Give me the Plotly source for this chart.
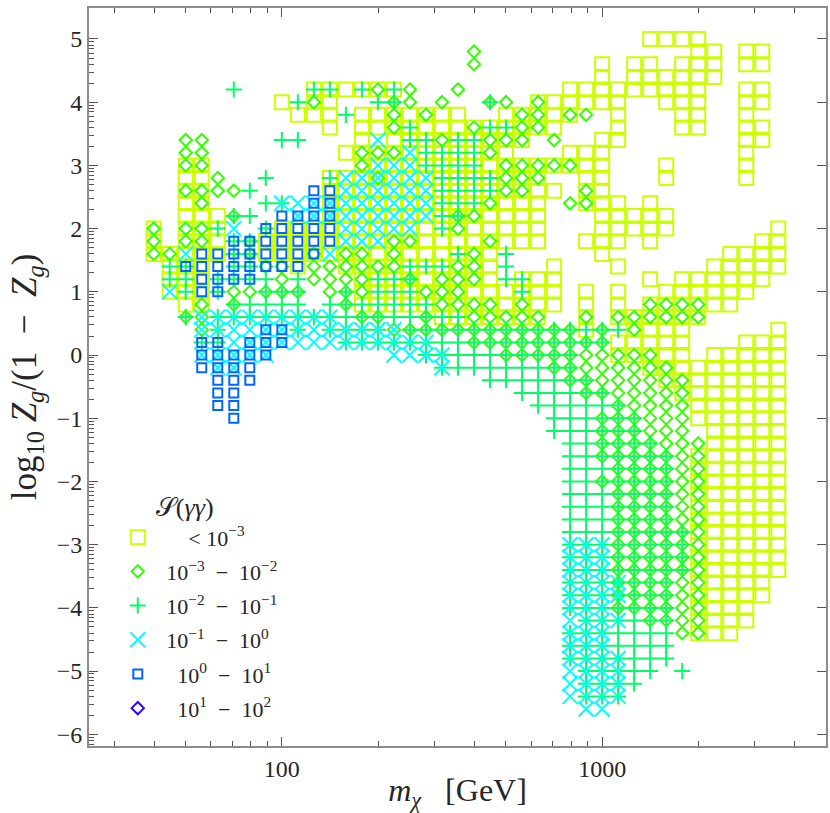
import math
import plotly.graph_objects as go

# points per row: {log10 Zg/(1-Zg): [100*log10 m_chi, ...]}
squares = {
    5.0: [315, 320, 325, 330],
    4.8: [330, 335, 345, 350],
    4.6: [300, 310, 315, 325, 330, 335, 345, 350],
    4.4: [300, 310, 315, 320, 325, 330, 335],
    4.2: [210, 215, 220, 225, 230, 235, 290, 295, 300, 305, 310, 315, 320, 325, 330, 345, 350],
    4.0: [200, 210, 215, 280, 285, 290, 295, 300, 305, 320, 325, 330, 345, 350],
    3.8: [205, 210, 215, 225, 230, 235, 240, 245, 250, 255, 270, 275, 280, 285, 290, 305, 325, 330, 345],
    3.6: [215, 225, 230, 235, 240, 245, 250, 255, 260, 265, 270, 275, 280, 285, 305, 325, 330, 345, 350],
    3.4: [225, 235, 240, 245, 250, 255, 260, 265, 270, 275, 300, 305, 345, 350],
    3.2: [220, 225, 230, 235, 240, 245, 250, 255, 260, 265, 270, 290, 295, 300, 345],
    3.0: [170, 175, 225, 230, 235, 240, 245, 250, 255, 260, 265, 270, 275, 280, 285, 290, 295, 300, 320, 345],
    2.8: [170, 175, 215, 220, 225, 230, 235, 240, 245, 250, 255, 260, 265, 270, 275, 280, 295, 300, 320, 345],
    2.6: [170, 175, 215, 220, 225, 230, 235, 240, 245, 250, 255, 260, 265, 270, 275, 280, 285, 295, 300],
    2.4: [170, 175, 215, 220, 225, 230, 235, 240, 245, 250, 255, 260, 265, 270, 275, 280, 295, 300, 305, 315],
    2.2: [170, 175, 180, 215, 220, 225, 230, 235, 240, 245, 250, 255, 260, 265, 270, 275, 280, 300, 305, 310, 315, 320],
    2.0: [160, 170, 175, 180, 200, 205, 210, 215, 220, 225, 230, 235, 240, 245, 250, 255, 260, 265, 270, 275, 280, 300, 305, 310, 315, 320, 355],
    1.8: [160, 170, 175, 180, 195, 200, 205, 210, 215, 220, 225, 230, 235, 240, 245, 250, 255, 260, 265, 270, 275, 280, 295, 300, 305, 315, 350, 355],
    1.6: [160, 165, 170, 175, 180, 195, 200, 205, 210, 215, 220, 225, 230, 235, 240, 245, 250, 255, 260, 265, 300, 340, 345, 350, 355],
    1.4: [165, 170, 175, 205, 220, 225, 230, 235, 240, 245, 250, 255, 260, 265, 285, 305, 335, 340, 345, 350, 355],
    1.2: [165, 170, 175, 225, 230, 235, 240, 245, 250, 255, 260, 265, 275, 280, 285, 315, 325, 330, 335, 340, 345, 350],
    1.0: [165, 170, 175, 225, 230, 235, 240, 245, 250, 255, 260, 265, 270, 275, 280, 285, 295, 305, 320, 325, 330, 335, 340, 345],
    0.8: [170, 175, 225, 230, 235, 240, 245, 250, 255, 260, 265, 270, 275, 280, 285, 295, 305, 315, 320, 325, 330, 335, 340],
    0.6: [250, 255, 260, 265, 270, 275, 280, 295, 305, 310, 315, 320, 325, 330],
    0.4: [295, 310, 315, 320, 325, 355],
    0.2: [305, 310, 315, 320, 325, 345, 350, 355],
    0.0: [305, 310, 315, 320, 325, 335, 340, 345, 350, 355],
    -0.2: [315, 320, 325, 330, 335, 340, 345, 350, 355],
    -0.4: [320, 325, 330, 335, 340, 345, 350, 355],
    -0.6: [325, 330, 335, 340, 345, 350, 355],
    -0.8: [330, 335, 340, 345, 350, 355],
    -1.0: [330, 335, 340, 345, 350, 355],
    -1.2: [335, 340, 345, 350, 355],
    -1.4: [335, 340, 345, 350, 355],
    -1.6: [330, 335, 340, 345, 350, 355],
    -1.8: [330, 335, 340, 345, 350, 355],
    -2.0: [330, 335, 340, 345, 350, 355],
    -2.2: [330, 335, 340, 345, 350, 355],
    -2.4: [330, 335, 340, 345, 350, 355],
    -2.6: [330, 335, 340, 345, 350, 355],
    -2.8: [330, 335, 340, 345, 350, 355],
    -3.0: [330, 335, 340, 345, 350, 355],
    -3.2: [330, 335, 340, 345, 350, 355],
    -3.4: [330, 335, 340, 345, 350, 355],
    -3.6: [330, 335, 340, 345, 350],
    -3.8: [330, 335, 340, 345, 350],
    -4.0: [330, 335, 340, 345],
    -4.2: [330, 335, 340, 345],
    -4.4: [330, 335, 340],
}

diamonds = {
    4.8: [260],
    4.6: [260],
    4.2: [230, 240, 255],
    4.0: [210, 235, 240, 250, 265, 270, 280],
    3.8: [235, 245, 275, 280, 290, 295],
    3.6: [235, 260, 275, 280],
    3.4: [170, 175, 250, 265, 270, 275, 285],
    3.2: [170, 175, 225, 230, 235, 265],
    3.0: [170, 175, 225, 270, 275, 280, 285, 290],
    2.8: [180, 230, 270, 275, 280],
    2.6: [170, 175, 180, 185, 270, 275, 295],
    2.4: [175, 265, 290, 295],
    2.2: [185, 255, 260],
    2.0: [160, 170, 175, 255],
    1.8: [160, 170, 175, 190, 235, 240, 265],
    1.6: [160, 165, 190, 210, 220, 225, 235, 260],
    1.4: [195, 200, 210, 215, 220, 225, 230, 235, 255, 260],
    1.2: [200, 210, 215, 220, 225, 240, 250, 255, 260],
    1.0: [185, 190, 195, 200, 205, 215, 220, 225, 245, 250, 255],
    0.8: [175, 185, 220, 250, 255, 260, 265, 275, 315, 320, 325, 330],
    0.6: [170, 175, 225, 230, 245, 260, 265, 270, 275, 280, 295, 305, 310, 315, 320, 325, 330],
    0.4: [175, 235, 240, 245, 250, 255, 260, 265, 270, 275, 280, 285, 290, 300, 310],
    0.2: [260, 265, 270, 275, 280, 285, 290, 295, 300],
    0.0: [270, 275, 280, 285, 290, 295, 300, 305, 310, 315],
    -0.2: [285, 290, 295, 300, 305, 310, 315, 320],
    -0.4: [290, 295, 300, 305, 310, 315, 320, 325],
    -0.6: [295, 300, 305, 310, 315, 320, 325],
    -0.8: [305, 310, 315, 320, 325],
    -1.0: [300, 305, 310, 315, 320, 325],
    -1.2: [300, 305, 310, 315, 320, 325],
    -1.4: [300, 305, 310, 315, 320, 325, 330],
    -1.6: [300, 305, 310, 315, 320, 325, 330],
    -1.8: [305, 310, 315, 320, 325, 330],
    -2.0: [300, 305, 310, 315, 320, 325, 330],
    -2.2: [305, 310, 315, 320, 325, 330],
    -2.4: [305, 310, 315, 320, 325, 330],
    -2.6: [305, 310, 315, 320, 325, 330],
    -2.8: [305, 310, 315, 320, 325, 330],
    -3.0: [305, 310, 315, 320, 325, 330],
    -3.2: [305, 310, 315, 320, 325, 330],
    -3.4: [305, 310, 315, 320, 325, 330],
    -3.6: [305, 310, 315, 320, 325, 330],
    -3.8: [305, 310, 315, 320, 325, 330],
    -4.0: [305, 310, 315, 320, 325, 330],
    -4.2: [315, 320, 325, 330],
    -4.4: [325, 330],
}

pluses = {
    4.2: [185, 210, 215, 225, 235],
    4.0: [205, 230, 235, 265],
    3.8: [220],
    3.6: [240, 265, 270],
    3.4: [200, 205, 240, 245, 255, 260],
    3.2: [245, 250, 255, 260],
    3.0: [245, 250, 255, 260],
    2.8: [195, 215, 250, 255, 260, 265],
    2.6: [190, 250, 255, 260, 265],
    2.4: [195, 200, 250, 255, 260],
    2.2: [185, 190, 250, 255],
    2.0: [180, 195, 250],
    1.8: [185, 190],
    1.6: [185, 190, 255, 270],
    1.4: [165, 170, 185, 190, 240, 245, 250, 270],
    1.2: [165, 170, 180, 185, 190, 195, 205, 230, 235, 240, 270, 275],
    1.0: [170, 180, 195, 200, 205, 220, 230, 235, 240, 275],
    0.8: [185, 190, 195, 200, 205, 215, 220, 225, 230, 235, 240, 245],
    0.6: [170, 180, 185, 190, 195, 200, 205, 210, 215, 220, 225, 230, 235, 240, 245, 250, 255],
    0.4: [180, 205, 215, 220, 225, 230, 240, 245, 250, 255, 260, 265, 270, 275, 280, 285, 290, 295, 300, 305],
    0.2: [175, 180, 220, 225, 230, 235, 240, 245, 250, 255, 260, 265, 270, 275, 280, 285, 290, 295, 300],
    0.0: [245, 250, 255, 260, 265, 270, 275, 280, 285, 290],
    -0.2: [250, 255, 260, 265, 270, 275, 280, 285, 290],
    -0.4: [265, 270, 275, 280, 285, 290, 295],
    -0.6: [275, 280, 285, 290, 295, 300],
    -0.8: [280, 285, 290, 295, 300, 305],
    -1.0: [285, 290, 295, 300, 305, 310],
    -1.2: [285, 290, 295, 300, 305, 310],
    -1.4: [290, 295, 300, 305, 310, 315],
    -1.6: [290, 295, 300, 305, 310, 315, 320],
    -1.8: [290, 295, 300, 305, 310, 315, 320],
    -2.0: [290, 295, 300, 305, 310, 315, 320],
    -2.2: [290, 295, 300, 305, 310, 315, 320],
    -2.4: [290, 295, 300, 305, 310, 315, 320],
    -2.6: [290, 295, 300, 305, 310, 315, 320],
    -2.8: [290, 295, 300, 305, 310, 315, 320, 325],
    -3.0: [290, 295, 300, 305, 310, 315, 320, 325],
    -3.2: [290, 295, 300, 305, 310, 315, 320, 325],
    -3.4: [290, 295, 300, 305, 310, 315, 320, 325],
    -3.6: [290, 295, 300, 305, 310, 315, 320],
    -3.8: [290, 295, 300, 305, 310, 315, 320],
    -4.0: [290, 295, 300, 305, 310, 315, 320],
    -4.2: [295, 300, 305, 310, 315, 320],
    -4.4: [290, 295, 300, 305, 310, 315, 320],
    -4.6: [290, 295, 300, 305, 310, 315, 320],
    -4.8: [290, 295, 300, 305, 310, 315, 320],
    -5.0: [295, 300, 305, 310, 315, 325],
    -5.2: [295, 300, 305, 310],
    -5.4: [295, 300, 305],
}

crosses = {
    3.4: [230],
    3.2: [240],
    3.0: [230, 235, 240],
    2.8: [220, 225, 230, 235, 240, 245],
    2.6: [220, 225, 230, 235, 240, 245],
    2.4: [200, 205, 210, 215, 220, 225, 230, 235, 240, 245],
    2.2: [205, 210, 215, 220, 225, 230, 235, 240, 245],
    2.0: [185, 220, 225, 230, 235, 240],
    1.8: [220, 225, 230],
    1.6: [170, 215],
    1.0: [165],
    0.6: [175, 180, 185, 190, 195, 200, 205, 210, 215],
    0.4: [175, 180, 185, 190, 195, 200, 205, 210, 215, 220, 225, 230, 235],
    0.2: [185, 190, 195, 200, 205, 210, 215, 220, 225, 230, 235, 240, 245],
    0.0: [175, 180, 185, 190, 195, 235, 240, 245, 250],
    -0.2: [180, 185, 250],
    -3.0: [290, 295, 300],
    -3.2: [290, 295, 300],
    -3.4: [290, 295, 300],
    -3.6: [290, 295, 300, 305],
    -3.8: [290, 295, 300, 305],
    -4.0: [290, 295, 300],
    -4.2: [290, 295, 300, 305],
    -4.4: [290, 295, 300],
    -4.6: [290, 295, 300],
    -4.8: [290, 295, 300, 305],
    -5.0: [290, 295, 300, 305],
    -5.2: [290, 295, 300, 305],
    -5.4: [290, 295, 300, 305],
    -5.6: [295, 300],
}

small_squares = {
    2.6: [210, 215],
    2.4: [210, 215],
    2.2: [200, 205, 210, 215],
    2.0: [195, 200, 205, 210, 215],
    1.8: [185, 190, 195, 200, 205, 210, 215],
    1.6: [175, 180, 185, 190, 195, 200, 205, 210],
    1.4: [170, 175, 180, 185, 190, 195, 200, 205],
    1.2: [175, 180, 185, 190],
    1.0: [175, 180],
    0.4: [195, 200],
    0.2: [175, 180, 190, 195, 200],
    0.0: [175, 180, 185, 190, 195],
    -0.2: [175, 180, 185, 190],
    -0.4: [180, 185, 190],
    -0.6: [180, 185],
    -0.8: [180, 185],
    -1.0: [185],
}

y_ticks = [-6, -5, -4, -3, -2, -1, 0, 1, 2, 3, 4, 5]
x_ticks = [100, 1000]
x_minor = [30, 40, 50, 60, 70, 80, 90, 200, 300, 400, 500, 600, 700, 800, 900, 2000, 3000, 4000]

FONT = "Liberation Serif"
TEXT = "#262626"
FRAME = "#8c8c8c"
TICK = "#555555"

# y minor ticks bunch up under each integer, like a log axis
y_minor = [n + math.log10(k) for n in range(-7, 5) for k in range(2, 10)]


def expand(rows):
    xs, ys = [], []
    for y, cols in rows.items():
        for c in cols:
            xs.append(10 ** (c / 100))
            ys.append(y)
    return xs, ys


pad = "\u00a0"
dash = "\u2002−\u2002"
series = [
    (squares, pad * 5 + "<" + pad + "10<sup>−3</sup>", "square-open", "#CCFF00", 14),
    (diamonds, pad + "10<sup>−3</sup>" + dash + "10<sup>−2</sup>", "diamond-open", "#33FF00", 9.5),
    (pluses, pad + "10<sup>−2</sup>" + dash + "10<sup>−1</sup>", "cross-thin", "#00FF66", 11.5),
    (crosses, pad + "10<sup>−1</sup>" + dash + "10<sup>0</sup>", "x-thin", "#00FFFF", 15),
    (small_squares, pad * 3 + "10<sup>0</sup>" + dash + "10<sup>1</sup>", "square-open", "#0066FF", 9),
]

fig = go.Figure()
for i, (rows, label, symbol, color, size) in enumerate(series):
    xs, ys = expand(rows)
    fig.add_trace(go.Scatter(
        x=xs, y=ys, mode="markers", name=label, legendgroup=str(i),
        marker=dict(symbol=symbol, size=size, color=color, line=dict(color=color, width=2)),
    ))

# nothing falls in the top bin, it only shows in the legend
fig.add_trace(go.Scatter(
    x=[None], y=[None], mode="markers", name=pad * 3 + "10<sup>1</sup>" + dash + "10<sup>2</sup>",
    legendgroup="5", yaxis="y2",
    marker=dict(symbol="diamond-open", size=9.5, color="#3300FF", line=dict(color="#3300FF", width=2)),
))

y_range = [-6.185, 5.49]
fig.update_layout(
    width=830, height=813,
    margin=dict(l=89, r=2, t=8, b=67),
    plot_bgcolor="white", paper_bgcolor="white",
    font=dict(family=FONT, size=20, color=TEXT),
    xaxis=dict(
        type="log", range=[math.log10(25), math.log10(5000)],
        tickvals=x_ticks, ticktext=["100", "1000"],
        ticks="inside", ticklen=9, tickwidth=1, tickcolor=TICK,
        minor=dict(tickvals=x_minor, ticks="inside", ticklen=5, tickwidth=1, tickcolor=TICK, showgrid=False),
        showline=True, linecolor=FRAME, linewidth=2, mirror="ticks", showgrid=False, zeroline=False,
        title=dict(text="<i>m<sub>χ</sub></i>" + pad * 3 + "[GeV]", font=dict(size=32), standoff=2),
        tickfont=dict(size=24),
    ),
    yaxis=dict(
        range=y_range, tickvals=y_ticks,
        ticktext=[str(v).replace("-", "−") for v in y_ticks],
        ticks="inside", ticklen=9, tickwidth=1, tickcolor=TICK,
        minor=dict(tickvals=y_minor, ticks="inside", ticklen=5, tickwidth=1, tickcolor=TICK, showgrid=False),
        showline=True, linecolor=FRAME, linewidth=2, mirror=True, showgrid=False, zeroline=False,
        title=dict(text="log<sub>10</sub>" + pad + "<i>Z<sub>g</sub></i>/(1" + dash + "<i>Z<sub>g</sub></i>)", font=dict(size=35), standoff=9),
        tickfont=dict(size=24),
    ),
    yaxis2=dict(
        range=y_range, overlaying="y", side="right", tickvals=y_ticks, showticklabels=False,
        ticks="inside", ticklen=9, tickwidth=1, tickcolor=TICK, showgrid=False, zeroline=False,
    ),
    legend=dict(
        x=0.035, y=0.357, xanchor="left", yanchor="top", bgcolor="rgba(0,0,0,0)",
        font=dict(size=22), tracegroupgap=2.6, itemwidth=36, traceorder="grouped",
        title=dict(text=pad * 6 + "𝒮(<i>γγ</i>)", font=dict(size=26)),
    ),
)

fig.write_html("out.html", config=dict(displayModeBar=False), post_script="document.body.style.margin='0';")
